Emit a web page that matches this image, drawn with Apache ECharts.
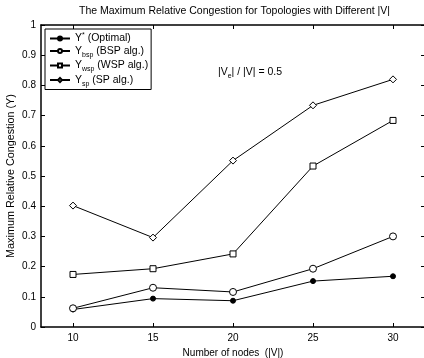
<!DOCTYPE html>
<html>
<head>
<meta charset="utf-8">
<script src="https://cdn.jsdelivr.net/npm/echarts@6/dist/echarts.min.js"></script>
<style>
  html, body { margin: 0; padding: 0; background: #fff; }
  #chart { width: 424px; height: 358px; }
</style>
</head>
<body>
<div id="chart"></div>
<script>
const nodes = [10, 15, 20, 25, 30];
const optimal = [0.058, 0.094, 0.087, 0.152, 0.168];
const bsp = [0.062, 0.130, 0.116, 0.193, 0.300];
const wsp = [0.174, 0.193, 0.242, 0.533, 0.684];
const sp = [0.402, 0.296, 0.551, 0.734, 0.820];
const yTicks = [0, 0.1, 0.2, 0.3, 0.4, 0.5, 0.6, 0.7, 0.8, 0.9, 1];

const FONT = '"Liberation Sans", Arial, sans-serif';

const legendText = {
  'Optimal': '{b|Y}{sup|*} (Optimal)',
  'BSP': '{b|Y}{sub|bsp} (BSP alg.)',
  'WSP': '{b|Y}{sub|wsp} (WSP alg.)',
  'SP': '{b|Y}{sub|sp} (SP alg.)'
};

const pairs = arr => nodes.map((n, i) => [n, arr[i]]);

function line(name, data, symbol, size, filled) {
  return {
    name: name,
    type: 'line',
    data: pairs(data),
    symbol: symbol,
    symbolSize: size,
    showSymbol: true,
    lineStyle: { color: '#000', width: 1 },
    itemStyle: { color: filled ? '#000' : '#fff', borderColor: '#000', borderWidth: 1 },
    emphasis: { disabled: true },
    animation: false
  };
}

const chart = echarts.init(document.getElementById('chart'));

const option = {
  backgroundColor: '#fff',
  animation: false,
  title: {
    text: 'The Maximum Relative Congestion for Topologies with Different |V|',
    left: 79,
    top: 6,
    padding: 0,
    textStyle: { fontFamily: FONT, fontSize: 10.5, fontWeight: 'normal', color: '#000' }
  },
  legend: {
    orient: 'vertical',
    left: 45,
    top: 29,
    itemWidth: 20,
    itemHeight: 5,
    itemGap: 1.5,
    padding: [3, 3, 2, 4],
    borderColor: '#000',
    borderWidth: 1,
    backgroundColor: '#fff',
    data: ['Optimal', 'BSP', 'WSP', 'SP'],
    formatter: name => legendText[name],
    textStyle: {
      fontFamily: FONT,
      fontSize: 10.5,
      color: '#000',
      rich: {
        b: { fontFamily: FONT, fontSize: 10.5, color: '#000' },
        sub: { fontFamily: FONT, fontSize: 7, color: '#000', padding: [8, 0, 0, 0] },
        sup: { fontFamily: FONT, fontSize: 7, color: '#000', padding: [0, 0, 6, 0] }
      }
    }
  },
  grid: { left: 41, right: -1, top: 25, bottom: 31, outerBoundsMode: 'none' },
  xAxis: [
    {
      type: 'value', min: 8, max: 32, position: 'bottom',
      name: 'Number of nodes  (|V|)', nameLocation: 'middle', nameGap: 21,
      nameMoveOverlap: false,
      nameTextStyle: { fontFamily: FONT, fontSize: 10, color: '#000' },
      axisLine: { onZero: false, lineStyle: { color: '#000', width: 1.5 } },
      axisTick: { inside: true, length: 4, customValues: nodes, lineStyle: { color: '#000' } },
      axisLabel: { customValues: nodes, fontFamily: FONT, fontSize: 10, color: '#000', margin: 6 },
      splitLine: { show: false }
    },
    {
      type: 'value', min: 8, max: 32, position: 'top',
      axisLine: { onZero: false, lineStyle: { color: '#000', width: 1.5 } },
      axisTick: { inside: true, length: 4, customValues: nodes, lineStyle: { color: '#000' } },
      axisLabel: { show: false },
      splitLine: { show: false }
    }
  ],
  yAxis: [
    {
      type: 'value', min: 0, max: 1, interval: 0.1, position: 'left',
      name: 'Maximum Relative Congestion (Y)', nameLocation: 'middle', nameGap: 24,
      nameMoveOverlap: false,
      nameTextStyle: { fontFamily: FONT, fontSize: 10.8, color: '#000' },
      axisLine: { onZero: false, lineStyle: { color: '#000', width: 1.5 } },
      axisTick: { inside: true, length: 4, lineStyle: { color: '#000' } },
      axisLabel: { customValues: yTicks, fontFamily: FONT, fontSize: 10, color: '#000', margin: 5 },
      splitLine: { show: false }
    },
    {
      type: 'value', min: 0, max: 1, interval: 0.1, position: 'right',
      axisLine: { onZero: false, lineStyle: { color: '#000', width: 1.5 } },
      axisTick: { inside: true, length: 4, lineStyle: { color: '#000' } },
      axisLabel: { show: false },
      splitLine: { show: false }
    }
  ],
  graphic: [
    {
      type: 'text',
      left: 218,
      top: 67,
      style: {
        text: '{b||V}{sub|e}{b|| / |V| = 0.5}',
        rich: {
          b: { fontFamily: FONT, fontSize: 10.5, fill: '#000' },
          sub: { fontFamily: FONT, fontSize: 7, fill: '#000', padding: [7, 0, 0, 0] }
        }
      }
    }
  ],
  series: [
    line('Optimal', optimal, 'circle', 5, true),
    line('BSP', bsp, 'circle', 7, false),
    line('WSP', wsp, 'rect', 6, false),
    line('SP', sp, 'diamond', 7, false)
  ]
};

chart.setOption(option);
</script>
</body>
</html>
